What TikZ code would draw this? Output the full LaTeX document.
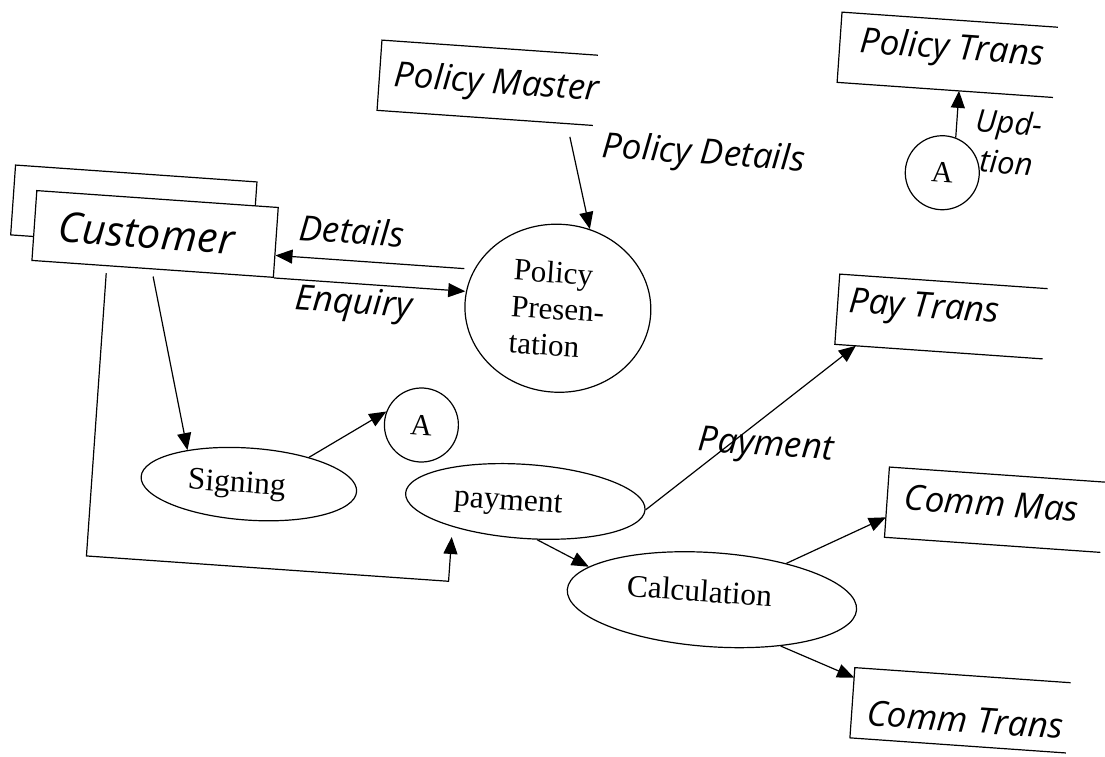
\documentclass[tikz,border=0pt]{standalone}
\usepackage{fontspec}
\setmainfont{Liberation Serif}
\newfontfamily\flowfont{Open Sans}
\usetikzlibrary{arrows.meta,shapes.geometric}

\tikzset{
  stroke/.style={draw=black, line width=1.2pt},
  flow/.style={stroke, -{Triangle[length=17pt,width=14pt]}},
  sanslabel/.style={inner sep=0pt, font=\flowfont\itshape\fontsize{35pt}{41pt}\selectfont},
  datastore/.style={rectangle, inner sep=0pt, minimum height=70pt, minimum width=#1},
  storetext/.style={inner sep=0pt, anchor=west,
    font=\flowfont\itshape\fontsize{35pt}{41pt}\selectfont},
  entity/.style={rectangle, stroke, fill=white, minimum width=242pt, minimum height=70pt,
    inner xsep=24pt, inner ysep=0pt, text width=194pt, align=left,
    font=\flowfont\itshape\fontsize{41.5pt}{48pt}\selectfont},
  proc/.style={ellipse, stroke, inner sep=0pt},
  proctext/.style={inner sep=0pt, font=\fontsize{31.5pt}{37pt}\selectfont},
  connector/.style={circle, stroke, minimum size=74pt, inner sep=0pt,
    font=\fontsize{30pt}{36pt}\selectfont},
}

\begin{document}
\begin{tikzpicture}[x=1pt, y=-1pt]
\useasboundingbox (0,0) rectangle (1105,757);

\begin{scope}[rotate around={-4:(552,378)}, transform shape]

  % external entity, drawn twice as a stacked pair
  \node[entity] (custback) at (123,238) {};
  \node[entity] (cust) at (146,262) {Customer};

  % data stores (open on the right)
  \node[datastore=216pt] (pm)  at (467,88)     {};
  \node[datastore=216pt] (ptr) at (924,28)     {};
  \node[datastore=208pt] (pt)  at (936,289.5)  {};
  \node[datastore=216pt] (cm)  at (1003,478.5) {};
  \node[datastore=216pt] (ct)  at (982.5,681)  {};
  \foreach \s in {pm,ptr,pt,cm,ct}
    \draw[stroke] (\s.north east) -- (\s.north west) -- (\s.south west) -- (\s.south east);
  \node[storetext] (pmtxt)  at ([shift={(15,1)}]pm.west)   {Policy Master};
  \node[storetext] (ptrtxt) at ([shift={(20,-5)}]ptr.west) {Policy Trans};
  \node[storetext] (pttxt)  at ([shift={(11,-6)}]pt.west)  {Pay Trans};
  \node[storetext] (cmtxt)  at ([shift={(17,-6)}]cm.west)  {Comm Mas};
  \node[storetext] (cttxt)  at ([shift={(15,9)}]ct.west)   {Comm Trans};

  % processes
  \node[proc, minimum width=186pt, minimum height=168pt] (pp) at (553,308) {};
  \node[proctext, font=\fontsize{31pt}{36.5pt}\selectfont] (pptxt) at (553,312)
        {\begin{tabular}{@{}l@{}}Policy\\Presen-\\tation\end{tabular}};
  \node[proc, minimum width=216pt, minimum height=72pt] (sign) at (257,505) {};
  \node[proctext] (signtxt) at (245,507) {Signing};
  \node[proc, minimum width=240pt, minimum height=74pt] (pay) at (534,503) {};
  \node[proctext] (paytxt) at (517,507) {payment};
  \node[proc, minimum width=290pt, minimum height=94pt] (calc) at (727,588) {};
  \node[proctext] (calctxt) at (714,580) {Calculation};

  % off-page connectors
  \node[connector] (a1) at (425,434) {A};
  \node[connector] (a2) at (927,146) {A};

  % flow labels
  \node[sanslabel] (lbldet) at (342,245) {Details};
  \node[sanslabel] (lblenq) at (349,319) {Enquiry};
  \node[sanslabel] (lblpd)  at (688,145) {Policy Details};
  \node[sanslabel] (lblpay) at (770,432) {Payment};
  \node[sanslabel, align=center, font=\flowfont\itshape\fontsize{31pt}{40pt}\selectfont]
        (lblupd) at (990,111) {Upd-\\tion};

  % free ends of the flows
  \coordinate (pmout)    at ([shift={(86,13)}]pm.south);
  \coordinate (detin)    at (457,275);
  \coordinate (custdown) at ([shift={(1,7)}]cust.south);
  \coordinate (custloop) at ([shift={(-46,7)}]cust.south);
  \coordinate (payin)    at ([shift={(-71,3)}]pay.south);
  \coordinate (loopbot)  at (0,588);

  % data flows
  \draw[flow] (pmout) -- (pp.72);
  \draw[flow] (detin) -- (detin -| cust.east);
  \draw[flow] (cust.south east) -- (cust.south east -| pp.west);
  \draw[flow] (custdown) -- (sign.155);
  \draw[flow] (custloop) |- (loopbot -| payin) -- (payin);
  \draw[flow] (sign.28) -- (a1.163);
  \draw[flow] (pay.-69) -- (calc.169);
  \draw[flow] (pay.east) -- ([shift={(21,0)}]pt.south west);
  \draw[flow] (calc.30) -- ([shift={(0,-20)}]cm.south west);
  \draw[flow] (calc.-30) -- ([shift={(0,10)}]ct.north west);
  \draw[flow] (a2.73) -- (a2.73 |- ptr.south);

\end{scope}
\end{tikzpicture}
\end{document}
